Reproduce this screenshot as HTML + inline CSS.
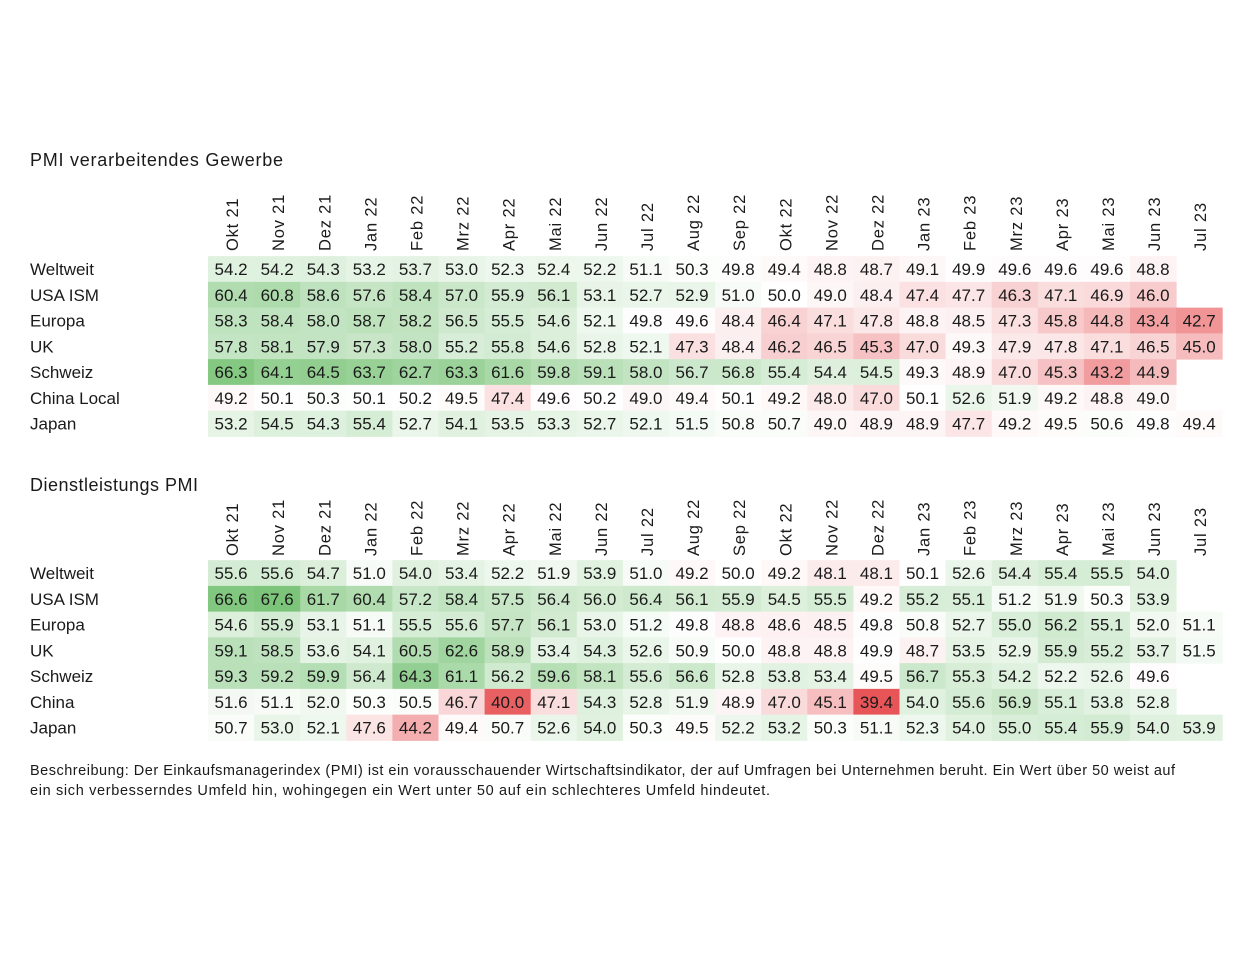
<!DOCTYPE html>
<html><head><meta charset="utf-8"><style>
body{margin:0;background:#fff;}
svg text{font-family:"Liberation Sans",sans-serif;fill:#1a1a1a;}
</style></head><body>
<svg id="c" width="1249" height="949" xmlns="http://www.w3.org/2000/svg"></svg>
<script>
const months=["Okt 21","Nov 21","Dez 21","Jan 22","Feb 22","Mrz 22","Apr 22","Mai 22","Jun 22","Jul 22","Aug 22","Sep 22","Okt 22","Nov 22","Dez 22","Jan 23","Feb 23","Mrz 23","Apr 23","Mai 23","Jun 23","Jul 23"];
const mfgRows=["Weltweit","USA ISM","Europa","UK","Schweiz","China Local","Japan"];
const mfgWeltweit=[54.2,54.2,54.3,53.2,53.7,53.0,52.3,52.4,52.2,51.1,50.3,49.8,49.4,48.8,48.7,49.1,49.9,49.6,49.6,49.6,48.8,null];
const mfgUSA=[60.4,60.8,58.6,57.6,58.4,57.0,55.9,56.1,53.1,52.7,52.9,51.0,50.0,49.0,48.4,47.4,47.7,46.3,47.1,46.9,46.0,null];
const mfgEuropa=[58.3,58.4,58.0,58.7,58.2,56.5,55.5,54.6,52.1,49.8,49.6,48.4,46.4,47.1,47.8,48.8,48.5,47.3,45.8,44.8,43.4,42.7];
const mfgUK=[57.8,58.1,57.9,57.3,58.0,55.2,55.8,54.6,52.8,52.1,47.3,48.4,46.2,46.5,45.3,47.0,49.3,47.9,47.8,47.1,46.5,45.0];
const mfgSchweiz=[66.3,64.1,64.5,63.7,62.7,63.3,61.6,59.8,59.1,58.0,56.7,56.8,55.4,54.4,54.5,49.3,48.9,47.0,45.3,43.2,44.9,null];
const mfgChina=[49.2,50.1,50.3,50.1,50.2,49.5,47.4,49.6,50.2,49.0,49.4,50.1,49.2,48.0,47.0,50.1,52.6,51.9,49.2,48.8,49.0,null];
const mfgJapan=[53.2,54.5,54.3,55.4,52.7,54.1,53.5,53.3,52.7,52.1,51.5,50.8,50.7,49.0,48.9,48.9,47.7,49.2,49.5,50.6,49.8,49.4];
const svcRows=["Weltweit","USA ISM","Europa","UK","Schweiz","China","Japan"];
const svcWeltweit=[55.6,55.6,54.7,51.0,54.0,53.4,52.2,51.9,53.9,51.0,49.2,50.0,49.2,48.1,48.1,50.1,52.6,54.4,55.4,55.5,54.0,null];
const svcUSA=[66.6,67.6,61.7,60.4,57.2,58.4,57.5,56.4,56.0,56.4,56.1,55.9,54.5,55.5,49.2,55.2,55.1,51.2,51.9,50.3,53.9,null];
const svcEuropa=[54.6,55.9,53.1,51.1,55.5,55.6,57.7,56.1,53.0,51.2,49.8,48.8,48.6,48.5,49.8,50.8,52.7,55.0,56.2,55.1,52.0,51.1];
const svcUK=[59.1,58.5,53.6,54.1,60.5,62.6,58.9,53.4,54.3,52.6,50.9,50.0,48.8,48.8,49.9,48.7,53.5,52.9,55.9,55.2,53.7,51.5];
const svcSchweiz=[59.3,59.2,59.9,56.4,64.3,61.1,56.2,59.6,58.1,55.6,56.6,52.8,53.8,53.4,49.5,56.7,55.3,54.2,52.2,52.6,49.6,null];
const svcChina=[51.6,51.1,52.0,50.3,50.5,46.7,40.0,47.1,54.3,52.8,51.9,48.9,47.0,45.1,39.4,54.0,55.6,56.9,55.1,53.8,52.8,null];
const svcJapan=[50.7,53.0,52.1,47.6,44.2,49.4,50.7,52.6,54.0,50.3,49.5,52.2,53.2,50.3,51.1,52.3,54.0,55.0,55.4,55.9,54.0,53.9];
const mfgData=[mfgWeltweit,mfgUSA,mfgEuropa,mfgUK,mfgSchweiz,mfgChina,mfgJapan];
const svcData=[svcWeltweit,svcUSA,svcEuropa,svcUK,svcSchweiz,svcChina,svcJapan];

const svg=document.getElementById('c');
const NS='http://www.w3.org/2000/svg';
const X0=208,CW=46.1,RH=25.75;
function xCol(i){return X0+i*CW;}
function color(v){
  const lo=39.4,mid=50,hi=68;
  let r,g,b;
  if(v>=mid){const t=Math.min(1,(v-mid)/(hi-mid));r=255+(120-255)*t;g=255+(195-255)*t;b=255+(118-255)*t;}
  else{let t=Math.min(1,(mid-v)/(mid-lo));t=Math.pow(t,1.25);r=255+(232-255)*t;g=255+(85-255)*t;b=255+(88-255)*t;}
  return `rgb(${r|0},${g|0},${b|0})`;
}
function txt(x,y,s,size,anchor){const t=document.createElementNS(NS,'text');t.setAttribute('x',x);t.setAttribute('y',y);t.setAttribute('font-size',size);if(anchor)t.setAttribute('text-anchor',anchor);t.textContent=s;svg.appendChild(t);return t;}
function table(title,titleY,headBottom,rowY0,rows,data,key,titleLen){
  const tt=txt(30,titleY,title,18);
  tt.setAttribute('textLength',titleLen);
  
  
  months.forEach((m,i)=>{
    const cx=xCol(i)+CW/2+7;
    const t=txt(0,0,m,16.5);
    t.setAttribute('letter-spacing','0.8');
    t.setAttribute('transform',`translate(${cx},${headBottom}) rotate(-90)`);
    
    
  });
  rows.forEach((r,ri)=>{
    const cy=rowY0+ri*RH;
    const l=txt(30,cy+6,r,17);
    
    
    data[ri].forEach((v,ci)=>{
      if(v==null)return;
      const rc=document.createElementNS(NS,'rect');
      rc.setAttribute('x',xCol(ci));rc.setAttribute('y',cy-RH/2);
      rc.setAttribute('width',CW+0.5);rc.setAttribute('height',RH+0.5);
      rc.setAttribute('fill',color(v));
      
      
      svg.appendChild(rc);
      const t=txt(xCol(ci)+CW/2,cy+6,v.toFixed(1),17,'middle');
      
      
    });
  });
}
table("PMI verarbeitendes Gewerbe",166,251,269,mfgRows,mfgData,'mfg',253);
table("Dienstleistungs PMI",491,556,573,svcRows,svcData,'svc',168);
const d1=txt(30,775,"Beschreibung: Der Einkaufsmanagerindex (PMI) ist ein vorausschauender Wirtschaftsindikator, der auf Umfragen bei Unternehmen beruht. Ein Wert über 50 weist auf",14.5);
d1.setAttribute('textLength','1145');


const d2=txt(30,795,"ein sich verbesserndes Umfeld hin, wohingegen ein Wert unter 50 auf ein schlechteres Umfeld hindeutet.",14.5);
d2.setAttribute('textLength','740');


</script>
</body></html>
